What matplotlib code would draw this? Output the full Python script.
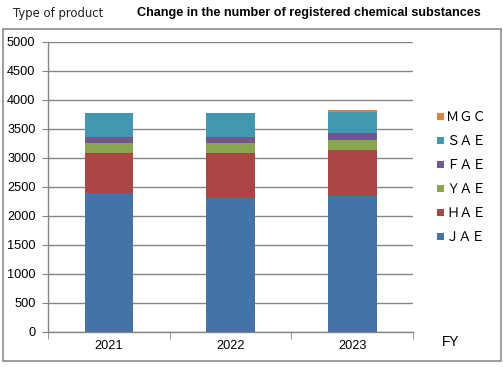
import matplotlib
matplotlib.use("Agg")
import matplotlib.pyplot as plt
from matplotlib.patches import Rectangle
import numpy as np

years = ["2021", "2022", "2023"]
series_names = ["ＪＡＥ", "ＨＡＥ", "ＹＡＥ", "ＦＡＥ", "ＳＡＥ", "ＭＧＣ"]
jae = [2385, 2310, 2328]
hae = [690, 765, 793]
yae = [172, 172, 189]
fae = [98, 98, 104]
sae = [419, 419, 362]
mgc = [0, 0, 51]
values = [jae, hae, yae, fae, sae, mgc]
colors = ["#4572A7", "#AA4643", "#89A54E", "#71588F", "#4198AF", "#DB843D"]
yticks = [0, 500, 1000, 1500, 2000, 2500, 3000, 3500, 4000, 4500, 5000]

W, H = 503, 367
fig = plt.figure(figsize=(W / 100, H / 100), dpi=100)
fig.patch.set_facecolor("white")

# outer frame
fig.add_artist(Rectangle((3 / W, 1 - 361 / H), (501 - 3) / W, (361 - 29) / H,
                         transform=fig.transFigure, fill=False,
                         edgecolor="#8c8c8c", linewidth=1.2))

ax = fig.add_axes([48 / W, 1 - 331.5 / H, (413 - 48) / W, (331.5 - 41.5) / H])
x = np.arange(len(years))
bottom = np.zeros(len(years))
handles = []
for name, vals, c in zip(series_names, values, colors):
    b = ax.bar(x, vals, width=0.40, bottom=bottom, color=c, label=name, zorder=3)
    handles.append(b)
    bottom += np.array(vals)

tick_font = "Liberation Sans"
ax.set_xlim(-0.5, 2.5)
ax.set_ylim(0, 5000)
ax.set_yticks(yticks)
ax.set_yticklabels([str(v) for v in yticks], fontsize=9.2, family=tick_font)
ax.set_xticks(x)
ax.set_xticklabels(years, fontsize=9.2, family=tick_font)
ax.set_xticks([-0.5, 0.5, 1.5, 2.5], minor=True)
ax.tick_params(axis="x", which="major", length=0, pad=6)
ax.tick_params(axis="x", which="minor", length=5, color="#868686")
ax.tick_params(axis="y", length=4, color="#868686", pad=5)
ax.yaxis.grid(True, color="#868686", linewidth=1, zorder=0)
for s in ["top", "right"]:
    ax.spines[s].set_visible(False)
for s in ["left", "bottom"]:
    ax.spines[s].set_color("#868686")
    ax.spines[s].set_linewidth(1)

leg = fig.legend(handles[::-1], series_names[::-1], loc="upper left",
                 bbox_to_anchor=(437 / W, 1 - 111 / H), frameon=False,
                 prop={"family": ["Noto Sans CJK JP", "DejaVu Sans"], "size": 9.5},
                 handlelength=0.5, handleheight=0.5, handletextpad=0.2,
                 labelspacing=0.84, borderpad=0, borderaxespad=0)

t1 = fig.text(13 / W, 1 - 13 / H, "Type of product", fontsize=10.5,
              family="DejaVu Sans", va="center", ha="left", color="#222222")
t2 = fig.text(137 / W, 1 - 13 / H, "Change in the number of registered chemical substances",
              fontsize=9.5, family="Liberation Sans", weight="bold", va="center", ha="left")
fig.text(451 / W, 1 - 342 / H, "FY", fontsize=9.8, family=tick_font,
         va="center", ha="center")

# fit text widths to the reference
fig.canvas.draw()
r = fig.canvas.get_renderer()
for t, target in [(t1, 90), (t2, 343)]:
    w = t.get_window_extent(r).width
    t.set_fontsize(t.get_fontsize() * target / w)

fig.savefig("out.png", dpi=100, facecolor="white")
